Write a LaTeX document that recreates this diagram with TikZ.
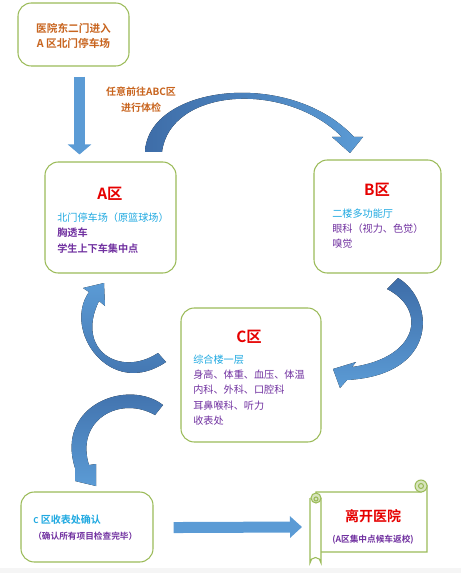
\documentclass[tikz,border=0pt]{standalone}
\usepackage{fontspec}
\setmainfont{Noto Sans CJK SC}[BoldFont={Noto Sans CJK SC Bold}]
\usetikzlibrary{positioning,arrows.meta,calc}
\definecolor{boxgreen}{HTML}{9BBB59}
\definecolor{rollgreen}{HTML}{D7E4BD}
\definecolor{arrowblue}{HTML}{5B9BD5}
\definecolor{arrowdark}{HTML}{3E6DA8}
\definecolor{textorange}{HTML}{C8641E}
\definecolor{textred}{HTML}{E60000}
\definecolor{textcyan}{HTML}{1FA9E1}
\definecolor{textpurple}{HTML}{7030A0}

\tikzset{
  zonebox/.style={draw=boxgreen, line width=0.8pt, rounded corners=10pt, fill=white},
  zonetitle/.style={font=\bfseries\fontsize{11.5}{13}\selectfont, text=textred},
  zonetext/.style={font=\fontsize{7.6}{11.5}\selectfont, align=left, anchor=west, inner sep=0pt},
  flatarrow/.style={draw=arrowblue, line width=8.25pt},
  scrollline/.style={draw=boxgreen, line width=0.8pt},
}

\begin{document}
\begin{tikzpicture}[x=0.75pt, y=-0.75pt]
  \useasboundingbox (0,0) rectangle (461,573);
  \fill[gray!8] (0,568) rectangle (461,573);

  \node (entry) at (73.5,34.5) [zonebox, minimum width=83.25pt, minimum height=47.25pt] {};
  \node (entrytext) at (73.5,35.5) [font=\bfseries\fontsize{8}{11.25}\selectfont, text=textorange, align=center] {医院东二门进入\\A 区北门停车场};
  \node (routetext) at (141,99.5) [font=\bfseries\fontsize{7.5}{11.5}\selectfont, text=textorange, align=center] {任意前往ABC区\\进行体检};

  \node (zoneA) at (110.5,217.5) [zonebox, minimum width=98.25pt, minimum height=83.25pt] {};
  \node (titleA) at (110,194) [zonetitle] {A区};
  \node (textA) at (57,233) [zonetext] {\textcolor{textcyan}{北门停车场（原篮球场）}\\
    \textcolor{textpurple}{\bfseries 胸透车}\\
    \textcolor{textpurple}{\bfseries 学生上下车集中点}};

  \node (zoneB) at (377.5,216.5) [zonebox, minimum width=95.25pt, minimum height=84.75pt] {};
  \node (titleB) at (377,190) [zonetitle] {B区};
  \node (textB) at (332,228.5) [zonetext] {\textcolor{textcyan}{二楼多功能厅}\\
    \textcolor{textpurple}{眼科（视力、色觉）}\\
    \textcolor{textpurple}{嗅觉}};

  \node (zoneC) at (251,375) [zonebox, minimum width=105pt, minimum height=100.5pt] {};
  \node (titleC) at (249,337) [zonetitle] {C区};
  \node (textC) at (193,390) [zonetext] {\textcolor{textcyan}{综合楼一层}\\
    \textcolor{textpurple}{身高、体重、血压、体温}\\
    \textcolor{textpurple}{内科、外科、口腔科}\\
    \textcolor{textpurple}{耳鼻喉科、听力}\\
    \textcolor{textpurple}{收表处}};

  \node (checkout) at (87,527) [zonebox, minimum width=99pt, minimum height=52.5pt] {};
  \node (checkouttext) at (33,528) [zonetext, font=\bfseries\fontsize{7.5}{12}\selectfont] {\textcolor{textcyan}{{\fontsize{6}{8}\selectfont C} 区收表处确认}\\
    \textcolor{textpurple}{\fontsize{6.5}{8}\selectfont（确认所有项目检查完毕）}};

  % scroll
  \draw[scrollline, fill=white] (316,492) -- (421,492) -- (427,486) -- (427,552) -- (316,552) -- cycle;
  \draw[scrollline, fill=rollgreen] (421,486) circle[radius=6];
  \draw[scrollline] (421,486) circle[radius=2.5];
  \draw[scrollline, fill=white] (310,498) -- (310,563) arc[start angle=180, end angle=360, radius=5.5] -- (321,498);
  \draw[scrollline, fill=rollgreen] (316,498) circle[radius=5];
  \draw[scrollline] (316,499) circle[radius=2];
  \coordinate (scrollL) at (310,527);
  \node (leave) at (373,516) [font=\bfseries\fontsize{10.5}{12}\selectfont, text=textred] {离开医院};
  \node (leavetext) at (373,540) [font=\bfseries\fontsize{6.5}{8}\selectfont, text=textpurple] {(A区集中点候车返校)};

  % straight arrows
  \draw[flatarrow, -{Triangle[width=17.25pt, length=7.5pt]}] ([xshift=4.5pt, yshift=-7.5pt]entry.south) -- ([xshift=-23.25pt, yshift=5.25pt]zoneA.north);
  \draw[flatarrow, -{Triangle[width=15.75pt, length=9pt]}] ([xshift=15pt, yshift=-0.4pt]checkout.east) -- ([xshift=-6pt]scrollL);

  % curved arrows
  \fill[left color=arrowdark, right color=arrowblue] (145,152) .. controls (148,85) and (290,68) .. (354,137) -- (363,137) -- (350,153)
    -- (332,137) -- (342,137) .. controls (285,80) and (170,88) .. (162,152) -- cycle;
  \fill[top color=arrowdark, bottom color=arrowblue] (398,278) .. controls (435,300) and (440,375) .. (347,380) -- (340,388) -- (333,369)
    -- (356,362) -- (352,367) .. controls (418,358) and (428,310) .. (387,289) -- cycle;
  \fill[top color=arrowblue, bottom color=arrowdark] (158,353) .. controls (120,378) and (75,350) .. (99,301) -- (105,306) -- (104,283)
    -- (83,288) -- (89,292) .. controls (62,330) and (110,400) .. (166,362) -- cycle;
  \fill[top color=arrowdark, bottom color=arrowblue] (163,405) .. controls (128,378) and (55,405) .. (75,468) -- (75,481) -- (96,486)
    -- (96,464) -- (89,465) .. controls (75,420) and (120,395) .. (155,415) -- cycle;
\end{tikzpicture}
\end{document}
